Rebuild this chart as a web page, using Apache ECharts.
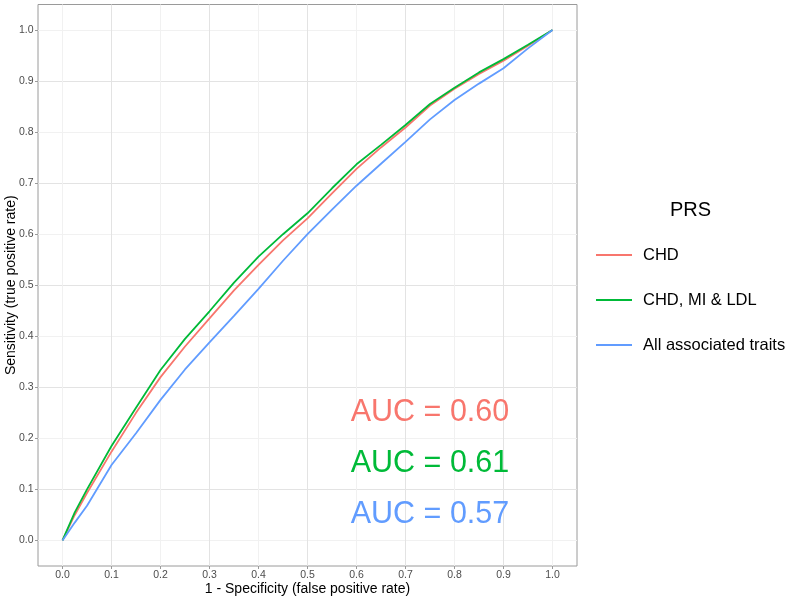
<!DOCTYPE html>
<html>
<head>
<meta charset="utf-8">
<script src="https://cdn.jsdelivr.net/npm/echarts@6/dist/echarts.min.js"></script>
<style>
  html, body { margin: 0; padding: 0; background: #fff; }
  #chart { width: 800px; height: 600px; }
</style>
</head>
<body>
<div id="chart"></div>
<script>
// ROC curves
const fpr = [0, 0.025, 0.05, 0.1, 0.15, 0.2, 0.25, 0.3, 0.35, 0.4, 0.45, 0.5, 0.55, 0.6, 0.65, 0.7, 0.75, 0.8, 0.85, 0.9, 0.95, 1]
const tprCHD = [0, 0.05, 0.093, 0.174, 0.25, 0.32, 0.38, 0.435, 0.49, 0.54, 0.588, 0.631, 0.68, 0.728, 0.77, 0.809, 0.852, 0.885, 0.914, 0.94, 0.969, 1]
const tprCHDMILDL = [0, 0.055, 0.1, 0.185, 0.26, 0.334, 0.395, 0.449, 0.505, 0.556, 0.6, 0.641, 0.69, 0.737, 0.775, 0.814, 0.855, 0.887, 0.917, 0.943, 0.971, 1]
const tprAll = [0, 0.035, 0.068, 0.148, 0.21, 0.2755, 0.335, 0.388, 0.44, 0.493, 0.548, 0.6, 0.648, 0.695, 0.738, 0.781, 0.825, 0.863, 0.895, 0.925, 0.964, 1]

const tickValues = [0, 0.1, 0.2, 0.3, 0.4, 0.5, 0.6, 0.7, 0.8, 0.9, 1.0]

const seriesNames = ['CHD', 'CHD, MI & LDL', 'All associated traits']
const seriesColors = ['#F8766D', '#00BA38', '#619CFF']
const aucLabels = ['AUC = 0.60', 'AUC = 0.61', 'AUC = 0.57']
const aucX = [0.75, 0.75, 0.75]
const aucY = [0.25, 0.15, 0.05]

const font = 'Liberation Sans, Arial, sans-serif'

const chart = echarts.init(document.getElementById('chart'))

function pairs(ys) {
  return fpr.map((x, i) => [x, ys[i]])
}

const curves = [tprCHD, tprCHDMILDL, tprAll]

function axis(name, nameGap, margin) {
  return {
    type: 'value', min: -0.05, max: 1.05, interval: 0.05,
    name: name, nameLocation: 'middle', nameGap: nameGap, nameMoveOverlap: false,
    nameTextStyle: { fontFamily: font, fontSize: 14, color: '#000' },
    axisLine: { show: false, onZero: false },
    axisTick: { show: true, length: 3, customValues: tickValues, lineStyle: { color: '#9a9a9a' } },
    axisLabel: {
      margin: margin, customValues: tickValues,
      fontFamily: font, fontSize: 10.5, color: '#4d4d4d',
      formatter: v => v.toFixed(1)
    },
    splitLine: { show: true, lineStyle: { color: ['#f1f1f1', '#e3e3e3'], width: 1 } }
  }
}

const option = {
  animation: false,
  textStyle: { fontFamily: font },
  title: {
    text: 'PRS',
    left: 670,
    top: 200,
    padding: 0,
    textStyle: { fontFamily: font, fontSize: 20, fontWeight: 'normal', color: '#000' }
  },
  legend: {
    data: seriesNames,
    orient: 'vertical',
    left: 596,
    top: 245,
    padding: 0,
    icon: 'rect',
    itemWidth: 36,
    itemHeight: 2,
    itemGap: 25,
    textStyle: { fontFamily: font, fontSize: 16.5, color: '#000', lineHeight: 20, padding: [0, 0, 0, 6] }
  },
  grid: {
    left: 38, top: 4.5, width: 539, height: 561.5,
    show: true, borderColor: '#9a9a9a', borderWidth: 1, backgroundColor: 'transparent',
    containLabel: false, outerBoundsMode: 'none'
  },
  xAxis: axis('1 - Specificity (false positive rate)', 16, 4),
  yAxis: axis('Sensitivity (true positive rate)', 20, 4.5),
  series: curves.map((ys, i) => ({
    name: seriesNames[i],
    type: 'line',
    data: pairs(ys),
    showSymbol: false,
    color: seriesColors[i],
    lineStyle: { width: 1.8, color: seriesColors[i] }
  })).concat(aucLabels.map((t, i) => ({
    name: 'auc' + i,
    type: 'scatter',
    symbolSize: 1,
    itemStyle: { color: 'rgba(0,0,0,0)', opacity: 1 },
    silent: true,
    z: 5,
    data: [[aucX[i], aucY[i]]],
    label: {
      show: true,
      position: 'inside',
      formatter: t,
      fontFamily: font,
      fontSize: 30.5,
      opacity: 1,
      color: seriesColors[i]
    }
  })))
}

chart.setOption(option)
</script>
</body>
</html>
